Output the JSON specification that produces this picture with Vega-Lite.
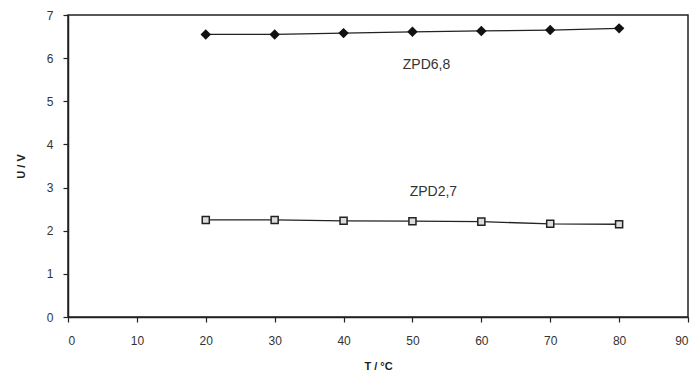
{
  "$schema": "https://vega.github.io/schema/vega-lite/v6.json",
  "width": 620,
  "height": 302,
  "autosize": {"type": "none"},
  "padding": {"left": 68, "top": 15, "right": 10, "bottom": 66},
  "background": "white",
  "config": {
    "view": {"stroke": "#222", "strokeWidth": 1.5},
    "font": "Liberation Sans",
    "axis": {
      "domainColor": "#222", "domainWidth": 1.5, "tickColor": "#222", "tickWidth": 1.2,
      "tickSize": 5, "grid": false, "labelFont": "Liberation Sans", "labelFontSize": 12,
      "labelColor": "#333", "titleFont": "Liberation Sans", "titleFontSize": 11,
      "titleFontWeight": "bold", "titleColor": "#222"
    }
  },
  "datasets": {
    "pts": [
      {"T": 20, "U": 6.55, "series": "ZPD6,8"},
      {"T": 30, "U": 6.55, "series": "ZPD6,8"},
      {"T": 40, "U": 6.58, "series": "ZPD6,8"},
      {"T": 50, "U": 6.61, "series": "ZPD6,8"},
      {"T": 60, "U": 6.63, "series": "ZPD6,8"},
      {"T": 70, "U": 6.65, "series": "ZPD6,8"},
      {"T": 80, "U": 6.69, "series": "ZPD6,8"},
      {"T": 20, "U": 2.25, "series": "ZPD2,7"},
      {"T": 30, "U": 2.25, "series": "ZPD2,7"},
      {"T": 40, "U": 2.23, "series": "ZPD2,7"},
      {"T": 50, "U": 2.22, "series": "ZPD2,7"},
      {"T": 60, "U": 2.21, "series": "ZPD2,7"},
      {"T": 70, "U": 2.16, "series": "ZPD2,7"},
      {"T": 80, "U": 2.15, "series": "ZPD2,7"}
    ],
    "labels": [
      {"T": 48.6, "U": 5.85, "label": "ZPD6,8"},
      {"T": 49.6, "U": 2.9, "label": "ZPD2,7"}
    ]
  },
  "encoding": {
    "x": {"field": "T", "type": "quantitative",
      "scale": {"domain": [0, 90], "nice": false},
      "axis": {"values": [0,10,20,30,40,50,60,70,80,90], "title": "T / °C", "labelPadding": 13, "titlePadding": 14}},
    "y": {"field": "U", "type": "quantitative",
      "scale": {"domain": [0, 7], "nice": false},
      "axis": {"values": [0,1,2,3,4,5,6,7], "title": "U / V", "labelPadding": 10, "titlePadding": 20}}
  },
  "layer": [
    {
      "data": {"name": "pts"},
      "mark": {"type": "line", "color": "#222", "strokeWidth": 1.3},
      "encoding": {"detail": {"field": "series"}}
    },
    {
      "data": {"name": "pts"},
      "transform": [{"filter": "datum.series == 'ZPD6,8'"}],
      "mark": {"type": "point", "shape": "diamond", "filled": true, "color": "#111", "size": 110, "opacity": 1}
    },
    {
      "data": {"name": "pts"},
      "transform": [{"filter": "datum.series == 'ZPD2,7'"}],
      "mark": {"type": "point", "shape": "square", "filled": true, "fill": "#ddd", "stroke": "#222", "strokeWidth": 1.5, "size": 50, "opacity": 1}
    },
    {
      "data": {"name": "labels"},
      "mark": {"type": "text", "align": "left", "baseline": "middle", "fontSize": 14, "color": "#333", "font": "Liberation Sans"},
      "encoding": {"text": {"field": "label"}}
    }
  ]
}
